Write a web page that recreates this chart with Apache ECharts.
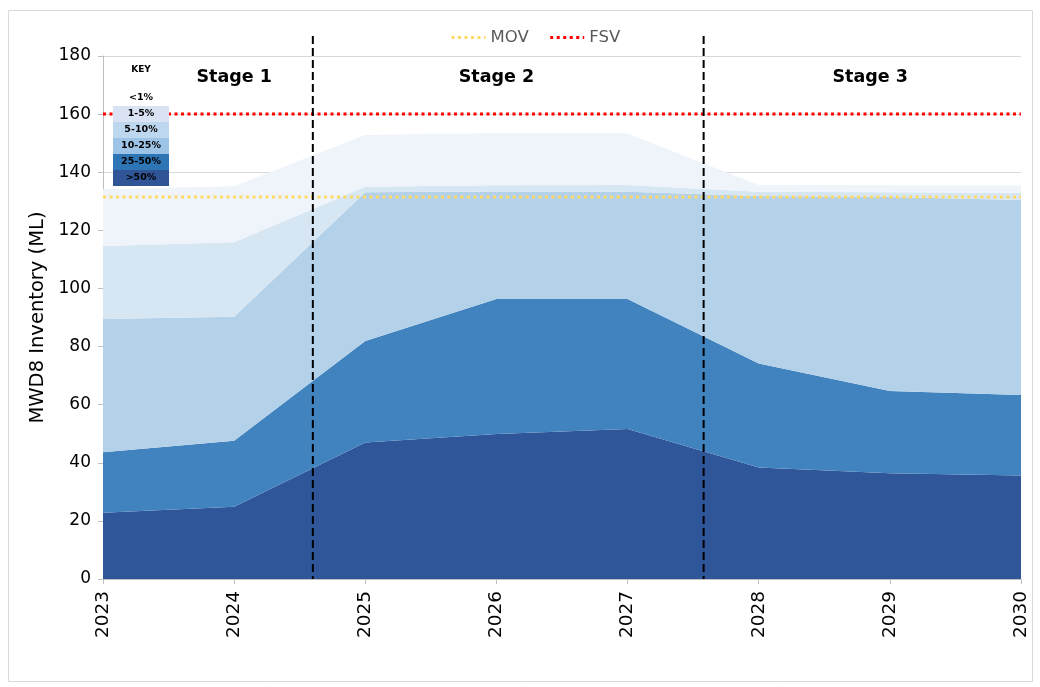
<!DOCTYPE html>
<html><head><meta charset="utf-8">
<script src="https://cdn.jsdelivr.net/npm/echarts@6/dist/echarts.min.js"></script>
<style>html,body{margin:0;padding:0;background:#fff}#c{width:1040px;height:687px}</style>
</head><body><div id="c"></div>
<script>
const years = ['2023', '2024', '2025', '2026', '2027', '2028', '2029', '2030'];
const over50 = [22.8, 24.9, 47.0, 49.9, 51.6, 38.4, 36.4, 35.6];
const p25to50 = [20.8, 22.7, 34.9, 46.5, 44.8, 35.8, 28.3, 27.7];
const p10to25 = [45.9, 42.7, 51.2, 37.0, 36.9, 57.6, 66.8, 67.1];
const p5to10 = [25.1, 25.6, 1.9, 2.1, 2.3, 1.5, 1.6, 2.5];
const p1to5 = [19.5, 19.3, 17.8, 17.9, 17.7, 2.3, 2.4, 2.5];
const movLevel = 131.5;
const fsvLevel = 160;
const stageBounds = [2024.6, 2027.58];
const stageNames = ['Stage 1', 'Stage 2', 'Stage 3'];
const stageLabelX = [2024.0, 2026.0, 2028.85];
const stageLabelY = 172.5;
const keyLabels = ['<1%', '1-5%', '5-10%', '10-25%', '25-50%', '>50%'];
const keyColors = [null, '#dae3f3', '#bdd7ee', '#9dc3e6', '#2e75b6', '#2f5597'];
const yTicks = [0, 20, 40, 60, 80, 100, 120, 140, 160, 180];

const FONT = 'DejaVu Sans';
const bands = [
  {name: '>50%', data: over50, color: '#30569a'},
  {name: '25-50%', data: p25to50, color: '#4183be'},
  {name: '10-25%', data: p10to25, color: '#b4d1ea'},
  {name: '5-10%', data: p5to10, color: '#d6e6f3'},
  {name: '1-5%', data: p1to5, color: '#eef4fa'}
];
const series = bands.map(b => ({
  name: b.name, type: 'line', stack: 'inv', showSymbol: false, symbol: 'none',
  xAxisIndex: 0, data: b.data,
  lineStyle: {width: 0}, areaStyle: {color: b.color, opacity: 1}, z: 2, silent: true
}));
series.push({
  name: 'MOV', type: 'line', showSymbol: false, symbol: 'none', z: 4, xAxisIndex: 0,
  data: years.map(() => movLevel), color: '#ffd966',
  lineStyle: {color: '#ffd966', width: 3, type: [3, 3.5]}
});
series.push({
  name: 'FSV', type: 'line', showSymbol: false, symbol: 'none', z: 4, xAxisIndex: 0,
  data: years.map(() => fsvLevel), color: '#ff0000',
  lineStyle: {color: '#ff0000', width: 3, type: [3, 3.5]}
});
series.push({
  type: 'custom', z: 5, clip: false, silent: true, xAxisIndex: 1,
  data: stageBounds.map(v => [v, 0]),
  encode: {x: 0, y: 1},
  renderItem: function (params, api) {
    const top = api.coord([api.value(0), yTicks[yTicks.length - 1]]);
    const bot = api.coord([api.value(0), 0]);
    return {type: 'line', shape: {x1: top[0], y1: top[1] - 20, x2: bot[0], y2: bot[1]},
      style: {stroke: '#000', lineWidth: 2, lineDash: [8, 4]}};
  }
});
series.push({
  type: 'custom', z: 6, clip: false, silent: true, xAxisIndex: 1,
  data: stageNames.map((n, i) => [stageLabelX[i], stageLabelY, i]),
  encode: {x: 0, y: 1},
  renderItem: function (params, api) {
    const p = api.coord([api.value(0), api.value(1)]);
    return {type: 'text', x: p[0], y: p[1],
      style: {text: stageNames[api.value(2)], fontFamily: FONT, fontWeight: 'bold', fontSize: 17.5,
        fill: '#000', align: 'center', verticalAlign: 'middle'}};
  }
});

const graphics = [
  {type: 'rect', shape: {x: 8.5, y: 10.5, width: 1024, height: 671}, style: {fill: 'none', stroke: '#d9d9d9', lineWidth: 1}, z: -1},
  {type: 'text', x: 141, y: 70, style: {text: 'KEY', fontFamily: FONT, fontWeight: 'bold', fontSize: 9, fill: '#000', align: 'center', verticalAlign: 'middle'}, z: 10}
];
const rowH = 16, keyX = 113, keyW = 56, keyTop = 90;
keyLabels.forEach((lab, i) => {
  const y = keyTop + i * rowH;
  if (keyColors[i]) graphics.push({type: 'rect', shape: {x: keyX, y: y, width: keyW, height: rowH}, style: {fill: keyColors[i]}, z: 9});
  graphics.push({type: 'text', x: keyX + keyW / 2, y: y + rowH / 2, style: {text: lab, fontFamily: FONT, fontWeight: 'bold', fontSize: 9.5, fill: '#000', align: 'center', verticalAlign: 'middle'}, z: 10});
});

const chart = echarts.init(document.getElementById('c'));
chart.setOption({
  animation: false,
  backgroundColor: '#fff',
  textStyle: {fontFamily: FONT},
  grid: {left: 103, right: 19, top: 56, bottom: 108},
  legend: {
    data: ['MOV', 'FSV'], top: 24, left: 445, itemWidth: 34, itemHeight: 10, itemGap: 20,
    itemStyle: {color: 'rgba(0,0,0,0)', borderWidth: 0},
    lineStyle: {width: 3, type: [3, 3.5]},
    textStyle: {fontFamily: FONT, fontSize: 16.5, color: '#595959'}
  },
  xAxis: [{
    type: 'category', data: years, boundaryGap: false,
    axisLine: {show: true, lineStyle: {color: '#bfbfbf'}},
    axisTick: {show: true, length: 5, lineStyle: {color: '#bfbfbf'}},
    splitLine: {show: false},
    axisLabel: {rotate: 90, fontFamily: FONT, fontSize: 18.5, color: '#000', margin: 12}
  }, {
    type: 'value', min: 2023, max: 2030, show: false
  }],
  yAxis: {
    type: 'value', min: yTicks[0], max: yTicks[yTicks.length - 1], interval: 20,
    name: 'MWD8 Inventory (ML)', nameLocation: 'middle', nameGap: 55,
    nameTextStyle: {fontFamily: FONT, fontSize: 19.5, color: '#000'},
    axisLine: {show: true, lineStyle: {color: '#bfbfbf'}},
    axisTick: {show: true, length: 5, lineStyle: {color: '#bfbfbf'}},
    splitLine: {show: true, lineStyle: {color: '#d9d9d9'}},
    axisLabel: {fontFamily: FONT, fontSize: 17, color: '#000', margin: 12}
  },
  graphic: graphics,
  series: series
});
</script></body></html>
